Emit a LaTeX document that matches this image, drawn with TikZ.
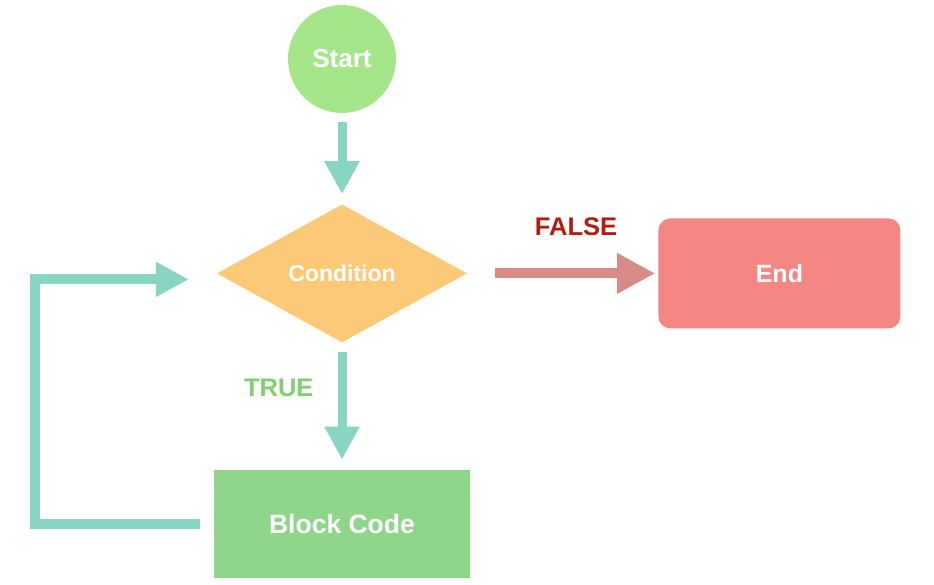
\documentclass[tikz,border=0pt]{standalone}
\usepackage{fontspec}
\setmainfont{Liberation Sans}
\usepackage{xcolor}
\usepackage{tikz}
\usetikzlibrary{positioning, shapes.geometric, arrows.meta}

\definecolor{startgreen}{HTML}{A6E68B}
\definecolor{condorange}{HTML}{FCC977}
\definecolor{endred}{HTML}{F48683}
\definecolor{blockgreen}{HTML}{8FD68A}
\definecolor{flowteal}{HTML}{89D5C4}
\definecolor{falsearrow}{HTML}{D98C87}
\definecolor{falsetext}{HTML}{B31B10}
\definecolor{truetext}{HTML}{80CF70}

\newcommand{\fsz}[1]{\fontsize{#1}{#1}\selectfont\bfseries}

\begin{document}
\begin{tikzpicture}[
  x=1pt, y=-1pt,
  every node/.style={text=white, inner sep=0pt},
  startnode/.style={circle, fill=startgreen, minimum size=108pt, font=\fsz{26}},
  cond/.style={diamond, fill=condorange, minimum width=250pt, minimum height=138pt, font=\fsz{23}},
  endnode/.style={rectangle, rounded corners=12pt, fill=endred, minimum width=242pt, minimum height=110pt, font=\fsz{25}},
  block/.style={rectangle, fill=blockgreen, minimum width=256pt, minimum height=108pt, font=\fsz{26.5}},
  flow/.style={draw=flowteal, line width=9pt, -{Triangle[length=33pt, width=33pt]}},
  falseflow/.style={draw=falsearrow, line width=10pt, -{Triangle[length=38pt, width=38pt]}},
  lbl/.style={font=\fsz{25.5}}
]
\useasboundingbox (0,0) rectangle (934,584);

\node[startnode] (start) at (342,59) {Start};
\node[cond, below=91pt of start] (cond) {Condition};
\node[block, below=127pt of cond] (block) {Block Code};
\node[endnode, right=191pt of cond] (end) {End};

\draw[flow, shorten <=9pt, shorten >=10pt] (start) -- (cond);
\draw[flow, shorten <=9pt, shorten >=10pt] (cond) -- (block)
  node[lbl, text=truetext, pos=0.354, left=24pt] (truelbl) {TRUE};
\draw[falseflow, shorten <=28pt, shorten >=3pt] (cond) -- (end)
  node[lbl, text=falsetext, pos=0.57, above=33pt] (falselbl) {FALSE};
% loop back
\draw[flow, line width=10pt, shorten <=14pt, shorten >=28pt]
  (block.west) -- ++(-179,0) |- ([yshift=-6pt]cond.west);
\end{tikzpicture}
\end{document}
